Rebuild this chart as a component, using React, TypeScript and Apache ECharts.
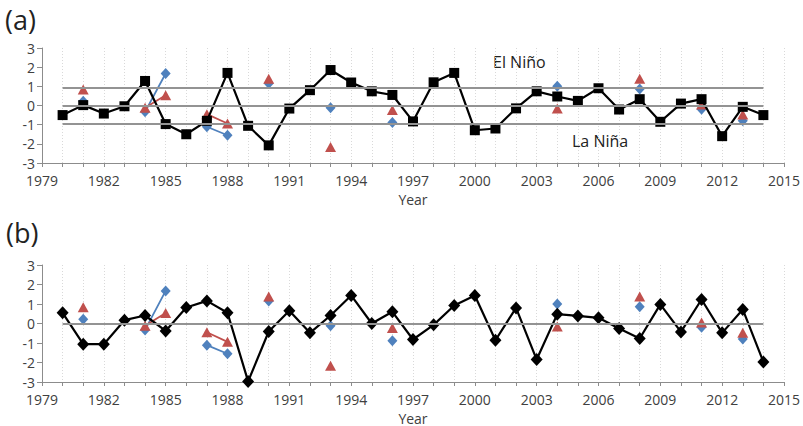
import React, { useEffect, useRef } from "react";
import * as echarts from "echarts";

// Years of the annual index series
const YEARS = [
  1980, 1981, 1982, 1983, 1984, 1985, 1986, 1987, 1988, 1989,
  1990, 1991, 1992, 1993, 1994, 1995, 1996, 1997, 1998, 1999,
  2000, 2001, 2002, 2003, 2004, 2005, 2006, 2007, 2008, 2009,
  2010, 2011, 2012, 2013, 2014,
];

// Panel (a): ENSO index (squares)
const INDEX_A = [
  -0.5, 0.02, -0.42, -0.04, 1.28, -0.97, -1.5, -0.8, 1.7, -1.06,
  -2.08, -0.16, 0.8, 1.85, 1.2, 0.74, 0.55, -0.83, 1.21, 1.7,
  -1.29, -1.2, -0.15, 0.74, 0.47, 0.24, 0.9, -0.21, 0.33, -0.85,
  0.1, 0.33, -1.6, -0.07, -0.5,
];

// Panel (b): second index (diamonds)
const INDEX_B = [
  0.55, -1.06, -1.06, 0.17, 0.41, -0.38, 0.82, 1.16, 0.55, -2.97,
  -0.41, 0.65, -0.48, 0.41, 1.44, 0.0, 0.6, -0.82, -0.07, 0.92,
  1.44, -0.86, 0.8, -1.85, 0.48, 0.39, 0.29, -0.26, -0.77, 0.98,
  -0.43, 1.23, -0.48, 0.72, -1.97,
];

// Years with observations (blue diamonds / red triangles)
const OBS_YEARS = [1981, 1984, 1985, 1987, 1988, 1990, 1993, 1996, 2004, 2008, 2011, 2013];
const BLUE_VALUES = [0.22, -0.33, 1.67, -1.11, -1.55, 1.15, -0.12, -0.89, 1.0, 0.86, -0.19, -0.8];
const RED_VALUES = [0.83, -0.12, 0.54, -0.45, -0.94, 1.39, -2.17, -0.23, -0.16, 1.39, 0.05, -0.47];

// Reference lines (El Niño / neutral / La Niña)
const THRESHOLDS_A = [0.95, 0, -0.95];
const THRESHOLDS_B = [0];
const LINE_SPAN = [1980, 2014];

const X_MIN = 1979;
const X_MAX = 2015;
const Y_MIN = -3;
const Y_MAX = 3;

const FONT = "'Open Sans', 'Noto Sans', sans-serif";
const TEXT_COLOR = "#404040";
const AXIS_COLOR = "#8c8c8c";
const REF_COLOR = "#939393";
const BLUE = "#4F81BD";
const RED = "#C0504D";

const pairs = (vals: number[]) => YEARS.map((y, i) => [y, vals[i]]);
const sparse = (vals: number[]) =>
  YEARS.map((y) => {
    const k = OBS_YEARS.indexOf(y);
    return k >= 0 ? [y, vals[k]] : [y, "-"];
  });

const refLines = (levels: number[]) =>
  levels.map((v) => [
    { coord: [LINE_SPAN[0], v] },
    { coord: [LINE_SPAN[1], v] },
  ]);

function xAxisFor(gridIndex: number) {
  return {
    type: "value",
    gridIndex,
    min: X_MIN,
    max: X_MAX,
    interval: 1,
    name: "Year",
    nameLocation: "middle",
    nameGap: 29,
    nameTextStyle: { fontFamily: FONT, fontSize: 14, color: TEXT_COLOR },
    axisLine: { onZero: false, lineStyle: { color: AXIS_COLOR, width: 1 } },
    axisTick: { show: true, length: 4, lineStyle: { color: AXIS_COLOR } },
    axisLabel: {
      margin: 10,
      fontFamily: FONT,
      fontSize: 14,
      color: TEXT_COLOR,
      formatter: (v: number) => ((v - X_MIN) % 3 === 0 ? String(v) : ""),
    },
    splitLine: {
      show: true,
      lineStyle: { color: "#d9d9d9", type: [1, 2], width: 1 },
    },
  };
}

function yAxisFor(gridIndex: number) {
  return {
    type: "value",
    gridIndex,
    min: Y_MIN,
    max: Y_MAX,
    interval: 1,
    axisLine: { show: true, lineStyle: { color: AXIS_COLOR, width: 1 } },
    axisTick: { show: true, length: 5, lineStyle: { color: AXIS_COLOR } },
    axisLabel: { margin: 7, fontFamily: FONT, fontSize: 14, color: TEXT_COLOR },
    splitLine: { show: false },
  };
}

function refSeries(idx: number, levels: number[]) {
  return {
    type: "line",
    xAxisIndex: idx,
    yAxisIndex: idx,
    data: [],
    z: 1,
    silent: true,
    markLine: {
      silent: true,
      symbol: "none",
      label: { show: false },
      lineStyle: { color: REF_COLOR, width: 1.8, type: "solid" },
      data: refLines(levels),
    },
  };
}

function obsSeries(idx: number, vals: number[], color: string, symbol: string, size: any) {
  return {
    type: "line",
    xAxisIndex: idx,
    yAxisIndex: idx,
    data: sparse(vals),
    connectNulls: false,
    symbol,
    symbolSize: size,
    showSymbol: true,
    showAllSymbol: true,
    itemStyle: { color },
    lineStyle: { color, width: 1.8 },
    z: 3,
  };
}

export default function App() {
  const ref = useRef<HTMLDivElement>(null);

  useEffect(() => {
    if (!ref.current) return;
    const chart = echarts.init(ref.current, undefined, { renderer: "svg" });
    chart.setOption({
      animation: false,
      backgroundColor: "#ffffff",
      grid: [
        { left: 42, right: 14, top: 48, height: 115 },
        { left: 42, right: 14, top: 265, height: 117 },
      ],
      xAxis: [xAxisFor(0), xAxisFor(1)],
      yAxis: [yAxisFor(0), yAxisFor(1)],
      series: [
        refSeries(0, THRESHOLDS_A),
        {
          type: "line",
          xAxisIndex: 0,
          yAxisIndex: 0,
          data: pairs(INDEX_A),
          symbol: "rect",
          symbolSize: 10,
          showAllSymbol: true,
          itemStyle: { color: "#000" },
          lineStyle: { color: "#000", width: 2.2 },
          z: 4,
        },
        obsSeries(0, BLUE_VALUES, BLUE, "diamond", [10, 11]),
        obsSeries(0, RED_VALUES, RED, "triangle", [11, 10]),

        refSeries(1, THRESHOLDS_B),
        {
          type: "line",
          xAxisIndex: 1,
          yAxisIndex: 1,
          data: pairs(INDEX_B),
          symbol: "diamond",
          symbolSize: [12, 13],
          showAllSymbol: true,
          itemStyle: { color: "#000" },
          lineStyle: { color: "#000", width: 2.2 },
          z: 4,
        },
        obsSeries(1, BLUE_VALUES, BLUE, "diamond", [10, 11]),
        obsSeries(1, RED_VALUES, RED, "triangle", [11, 10]),
      ],
      graphic: [
        {
          type: "text",
          left: 5,
          top: 6,
          style: { text: "(a)", fontFamily: FONT, fontSize: 27, fill: "#222" },
        },
        {
          type: "text",
          left: 6,
          top: 219,
          style: { text: "(b)", fontFamily: FONT, fontSize: 27, fill: "#222" },
        },
        {
          type: "text",
          left: 493,
          top: 54,
          style: { text: "El Niño", fontFamily: FONT, fontSize: 16, fill: "#222" },
        },
        {
          type: "text",
          left: 572,
          top: 133,
          style: { text: "La Niña", fontFamily: FONT, fontSize: 16, fill: "#222" },
        },
      ],
    });
    return () => chart.dispose();
  }, []);

  return (
    <div
      ref={ref}
      style={{ position: "absolute", left: 0, top: 0, width: 803, height: 426 }}
    />
  );
}
